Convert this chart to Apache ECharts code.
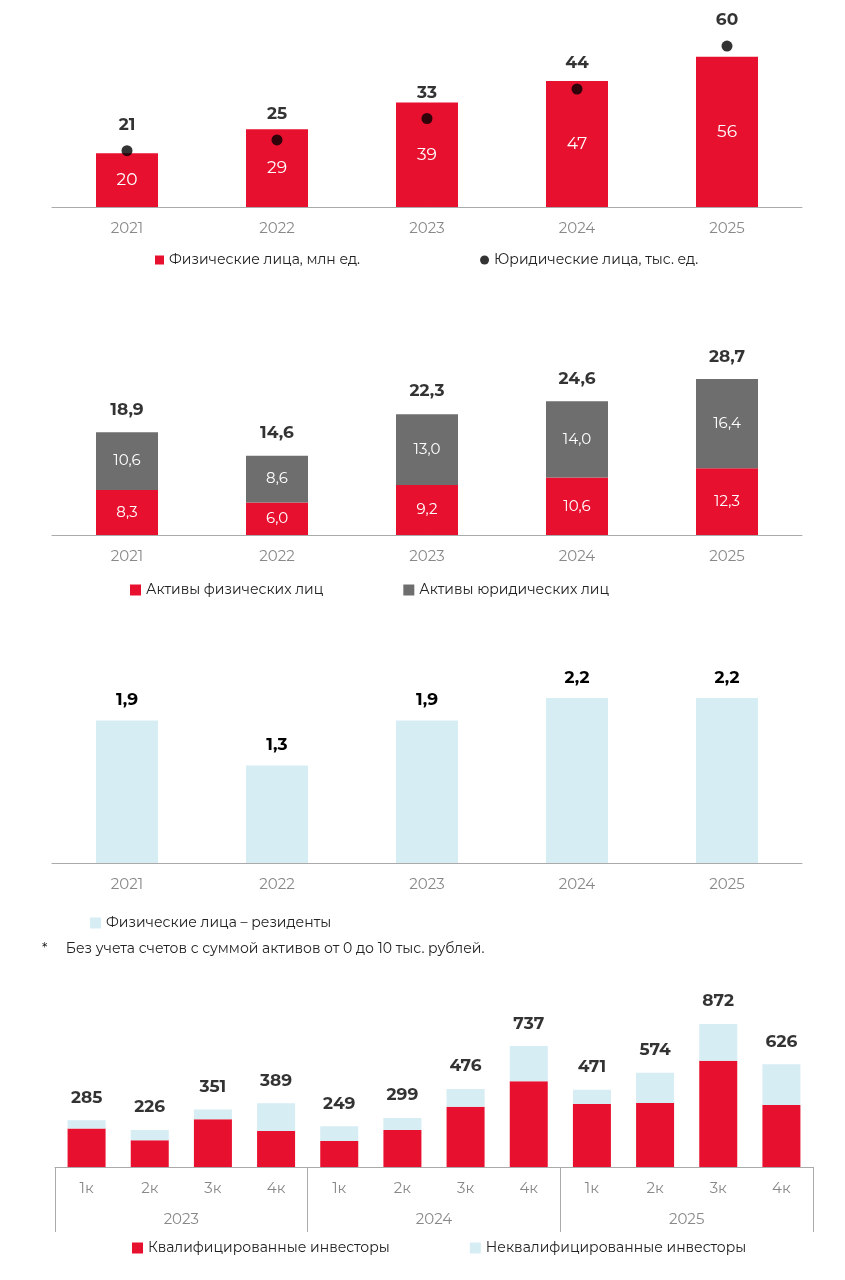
<!DOCTYPE html>
<html>
<head>
<meta charset="utf-8">
<script src="https://cdn.jsdelivr.net/npm/echarts@6/dist/echarts.min.js"></script>
<style>
  html, body { margin: 0; padding: 0; background: #fff; }
  #chart { width: 845px; height: 1280px; }
</style>
</head>
<body>
<div id="chart"></div>
<script>
const years = ['2021', '2022', '2023', '2024', '2025'];

// chart 1: accounts
const individualsMln = [20, 29, 39, 47, 56];
const legalThs = [21, 25, 33, 44, 60];

// chart 2: assets
const assetsIndividuals = [8.3, 6.0, 9.2, 10.6, 12.3];
const assetsLegal = [10.6, 8.6, 13.0, 14.0, 16.4];
const assetsTotal = [18.9, 14.6, 22.3, 24.6, 28.7];

// chart 3: residents
const residents = [1.9, 1.3, 1.9, 2.2, 2.2];

// chart 4: investors by quarter
const quarters = ['1к', '2к', '3к', '4к', '1к', '2к', '3к', '4к', '1к', '2к', '3к', '4к'];
const quarterYears = ['2023', '2024', '2025'];
const investorsTotal = [285, 226, 351, 389, 249, 299, 476, 737, 471, 574, 872, 626];
const qualified = [234, 163, 291, 219, 159, 225, 368, 523, 384, 390, 648, 378];
const unqualified = investorsTotal.map((t, i) => t - qualified[i]);

const RED = '#e8102f';
const GRAY = '#6e6e6e';
const BLUE = '#d5edf3';
const FONT = 'Montserrat, "Noto Sans", sans-serif';

const comma = v => String(v.toFixed(1)).replace('.', ',');

const axisX = (gridIndex, data) => ({
  type: 'category', gridIndex, data,
  axisLine: {lineStyle: {color: '#aaa'}},
  axisTick: {show: false},
  axisLabel: {color: '#888', fontSize: 15, margin: 14, fontFamily: FONT}
});
const axisY = (gridIndex, max) => ({
  type: 'value', gridIndex, min: 0, max, show: false, splitLine: {show: false}
});
const topLabel = (fmt, distance) => ({
  show: true, position: 'top', distance: distance || 6,
  color: '#000', fontWeight: 'bold', fontSize: 17, fontFamily: FONT,
  formatter: fmt
});
const legendText = {color: '#222', fontSize: 14, fontFamily: FONT};

const chart = echarts.init(document.getElementById('chart'));
chart.setOption({
  animation: false,
  grid: [
    {left: 52, right: 43, top: 30, height: 177},
    {left: 52, right: 43, top: 360, height: 175},
    {left: 52, right: 43, top: 680, height: 183},
    {left: 55, right: 32, top: 1000, height: 167}
  ],
  xAxis: [
    axisX(0, years),
    axisX(1, years),
    axisX(2, years),
    axisX(3, quarters),
    {
      type: 'category', gridIndex: 3, data: quarterYears, position: 'bottom',
      axisLine: {show: false},
      axisTick: {show: true, length: 65, lineStyle: {color: '#aaa'}},
      axisLabel: {color: '#888', fontSize: 15, margin: 45, fontFamily: FONT}
    }
  ],
  yAxis: [axisY(0, 66), axisY(1, 32.2), axisY(2, 2.44), axisY(3, 1018)],
  legend: [
    {
      top: 248, left: 150, itemGap: 120, itemWidth: 9, itemHeight: 9,
      textStyle: legendText,
      data: [{name: 'Физические лица, млн ед.', icon: 'rect'},
             {name: 'Юридические лица, тыс. ед.', icon: 'circle'}]
    },
    {
      top: 578, left: 125, itemGap: 80, itemWidth: 11, itemHeight: 11,
      textStyle: legendText,
      data: [{name: 'Активы физических лиц', icon: 'rect'},
             {name: 'Активы юридических лиц', icon: 'rect'}]
    },
    {
      top: 911, left: 85, itemWidth: 11, itemHeight: 11,
      textStyle: legendText,
      data: [{name: 'Физические лица – резиденты', icon: 'rect'}]
    },
    {
      top: 1236, left: 127, itemGap: 80, itemWidth: 11, itemHeight: 11,
      textStyle: legendText,
      data: [{name: 'Квалифицированные инвесторы', icon: 'rect'},
             {name: 'Неквалифицированные инвесторы', icon: 'rect'}]
    }
  ],
  graphic: [{
    type: 'text', left: 42, top: 942,
    style: {text: '*     Без учета счетов с суммой активов от 0 до 10 тыс. рублей.',
      fill: '#222', fontSize: 14, fontFamily: FONT}
  }],
  series: [
    {
      name: 'Физические лица, млн ед.', type: 'bar', xAxisIndex: 0, yAxisIndex: 0,
      data: individualsMln, barWidth: 62, itemStyle: {color: RED},
      label: {show: true, position: 'inside', color: '#fff', fontSize: 17, fontFamily: FONT}
    },
    {
      name: 'Юридические лица, тыс. ед.', type: 'scatter', xAxisIndex: 0, yAxisIndex: 0,
      data: legalThs, symbolSize: 11, itemStyle: {color: '#000'},
      label: topLabel('{c}', 12)
    },
    {
      name: 'Активы физических лиц', type: 'bar', stack: 'a', xAxisIndex: 1, yAxisIndex: 1,
      data: assetsIndividuals, barWidth: 62, itemStyle: {color: RED},
      label: {show: true, position: 'inside', color: '#fff', fontSize: 15, fontFamily: FONT,
        formatter: p => comma(p.value)}
    },
    {
      name: 'Активы юридических лиц', type: 'bar', stack: 'a', xAxisIndex: 1, yAxisIndex: 1,
      data: assetsLegal, barWidth: 62, itemStyle: {color: GRAY},
      label: {show: true, position: 'inside', color: '#fff', fontSize: 15, fontFamily: FONT,
        formatter: p => comma(p.value)}
    },
    {
      type: 'scatter', xAxisIndex: 1, yAxisIndex: 1, data: assetsTotal,
      symbolSize: 0, silent: true,
      label: topLabel(p => comma(p.value), 14)
    },
    {
      name: 'Физические лица – резиденты', type: 'bar', xAxisIndex: 2, yAxisIndex: 2,
      data: residents, barWidth: 62, itemStyle: {color: BLUE},
      label: topLabel(p => comma(p.value), 12)
    },
    {
      name: 'Квалифицированные инвесторы', type: 'bar', stack: 'q', xAxisIndex: 3, yAxisIndex: 3,
      data: qualified, barWidth: 38, itemStyle: {color: RED}
    },
    {
      name: 'Неквалифицированные инвесторы', type: 'bar', stack: 'q', xAxisIndex: 3, yAxisIndex: 3,
      data: unqualified, barWidth: 38, itemStyle: {color: BLUE}
    },
    {
      type: 'scatter', xAxisIndex: 3, yAxisIndex: 3, data: investorsTotal,
      symbolSize: 0, silent: true, label: topLabel('{c}', 14)
    }
  ]
});
</script>
</body>
</html>
